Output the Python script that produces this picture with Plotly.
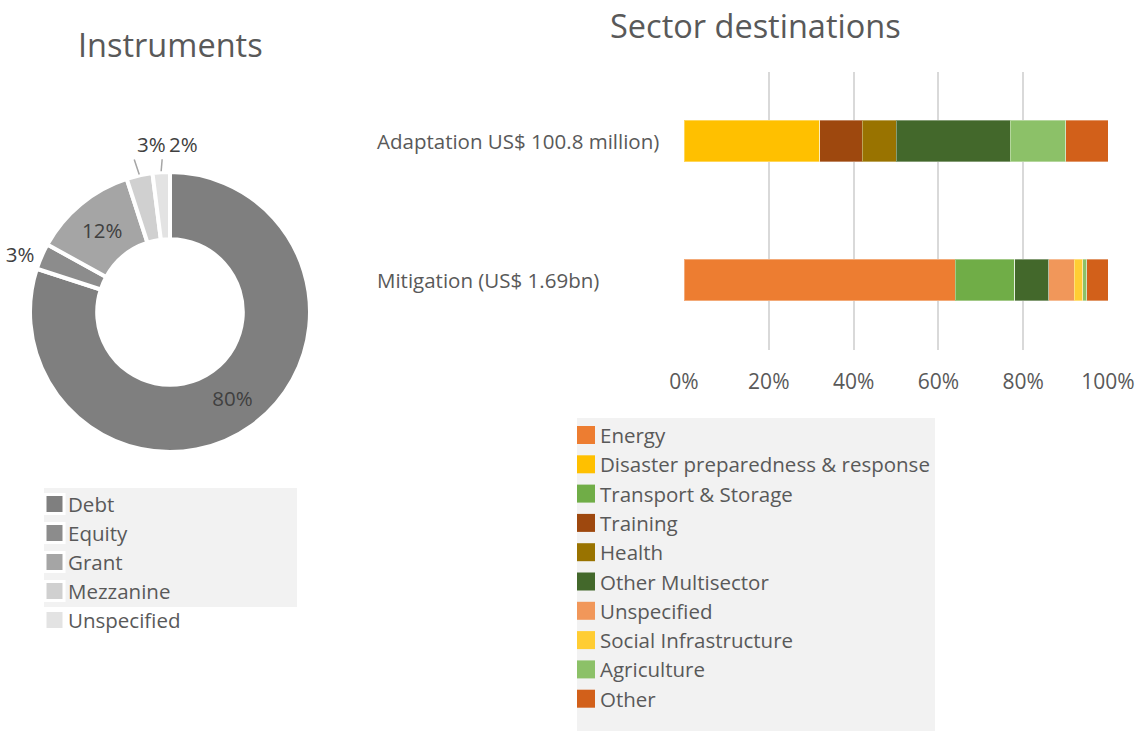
import math
import plotly.graph_objects as go

W, H = 1137, 731
FONT = "Open Sans"
TEXT = "#595959"
LABEL = "#404040"

# Instruments (donut)
instruments = ["Debt", "Equity", "Grant", "Mezzanine", "Unspecified"]
instrument_share = [80, 3, 12, 3, 2]
instrument_colors = ["#7f7f7f", "#8c8c8c", "#a5a5a5", "#d0d0d0", "#e3e3e3"]
instrument_textpos = ["inside", "outside", "inside", "none", "none"]

# Sector destinations (100% stacked bars)
categories = ["Mitigation (US$ 1.69bn)", "Adaptation US$ 100.8 million)"]
sectors = ["Energy", "Disaster preparedness & response", "Transport & Storage",
           "Training", "Health", "Other Multisector", "Unspecified",
           "Social Infrastructure", "Agriculture", "Other"]
sector_colors = ["#ED7D31", "#FFC000", "#70AD47", "#9E480E", "#997300",
                 "#43682B", "#F1975A", "#FFCD33", "#8CC168", "#D2601A"]
mitigation = [64, 0, 14, 0, 0, 8, 6, 2, 1, 5]
adaptation = [0, 32, 0, 10, 8, 27, 0, 0, 13, 10]
pct_ticks = [0, 20, 40, 60, 80, 100]


def px_x(v):
    return v / W


def px_y(v):
    return 1 - v / H


# donut geometry in pixels
PIE_CX, PIE_CY, PIE_R = 170, 312, 140

fig = go.Figure()

fig.add_trace(go.Pie(
    labels=instruments, values=instrument_share, sort=False,
    direction="clockwise", rotation=0, hole=0.52,
    marker=dict(colors=instrument_colors, line=dict(color="white", width=4)),
    texttemplate="%{value}%", textposition=instrument_textpos,
    insidetextorientation="horizontal",
    textfont=dict(family=FONT, size=20.5, color=LABEL),
    domain=dict(x=[px_x(PIE_CX - PIE_R), px_x(PIE_CX + PIE_R)],
                y=[px_y(PIE_CY + PIE_R), px_y(PIE_CY - PIE_R)]),
    showlegend=False, hoverinfo="label+percent",
))

for name, color, m, a in zip(sectors, sector_colors, mitigation, adaptation):
    fig.add_trace(go.Bar(
        y=categories, x=[m, a], name=name, orientation="h",
        marker=dict(color=color, line=dict(color="rgba(255,255,255,0.35)", width=1)),
        showlegend=False,
    ))

fig.update_layout(
    width=W, height=H, margin=dict(l=0, r=0, t=0, b=0, autoexpand=False),
    autosize=False,
    paper_bgcolor="white", plot_bgcolor="white",
    barmode="stack", bargap=0.7,
    font=dict(family=FONT, color=TEXT, size=20),
    xaxis=dict(domain=[px_x(684), px_x(1108)], range=[0, 100],
               tickmode="array", tickvals=pct_ticks,
               ticktext=[f"{v}%" for v in pct_ticks], showgrid=True,
               gridcolor="#d9d9d9", gridwidth=2, zeroline=False,
               showline=False, ticks="outside", ticklen=13, tickcolor="rgba(0,0,0,0)",
               tickfont=dict(family=FONT, size=21, color=TEXT)),
    yaxis=dict(domain=[px_y(349.5), px_y(71.5)], showticklabels=False,
               showgrid=False, zeroline=False, showline=False),
)

shapes = []
annotations = []


def note(text, x, y, size=20.5, xanchor="left", yref="paper", color=TEXT):
    annotations.append(dict(text=text, x=x, y=y, xref="paper", yref=yref,
                            xanchor=xanchor, yanchor="middle", showarrow=False,
                            font=dict(family=FONT, size=size, color=color)))


# titles
note("Instruments", px_x(170), px_y(45), size=32.5, xanchor="center")
note("Sector destinations", px_x(755), px_y(25), size=32.5, xanchor="center")

# left-aligned category labels
for cat in categories:
    note(cat, px_x(375), cat, size=20.5, yref="y")

# outside labels with short leader lines for the two thin top slices
# (slice index: (line end offset, text centre offset), offsets in pixels from the slice tip)
label_offsets = {3: ((-5, -15), (12, -30)), 4: ((1, -12), (22, -27))}
total = sum(instrument_share)
cum = 0
for i, v in enumerate(instrument_share):
    mid = (cum + v / 2) / total * 2 * math.pi
    cum += v
    if i in label_offsets:
        tx = PIE_CX + (PIE_R + 1) * math.sin(mid)
        ty = PIE_CY - (PIE_R + 1) * math.cos(mid)
        (lx, ly), (ox, oy) = label_offsets[i]
        shapes.append(dict(type="line", xref="paper", yref="paper",
                           x0=px_x(tx), y0=px_y(ty), x1=px_x(tx + lx), y1=px_y(ty + ly),
                           line=dict(color="#a6a6a6", width=1.5)))
        note(f"{v}%", px_x(tx + ox), px_y(ty + oy), size=20.5, xanchor="center", color=LABEL)

# instruments legend
shapes.append(dict(type="rect", xref="paper", yref="paper", x0=px_x(44), x1=px_x(297),
                   y0=px_y(607), y1=px_y(488), fillcolor="#f2f2f2", line=dict(width=0), layer="below"))
for i, (name, color) in enumerate(zip(instruments, instrument_colors)):
    yc = 504 + 29 * i
    shapes.append(dict(type="rect", xref="paper", yref="paper", x0=px_x(45), x1=px_x(64),
                       y0=px_y(yc + 9.5), y1=px_y(yc - 9.5), fillcolor=color,
                       line=dict(color="white", width=3)))
    note(name, px_x(66), px_y(yc))

# sectors legend
shapes.append(dict(type="rect", xref="paper", yref="paper", x0=px_x(577), x1=px_x(935),
                   y0=0, y1=px_y(418), fillcolor="#f2f2f2", line=dict(width=0), layer="below"))
for i, (name, color) in enumerate(zip(sectors, sector_colors)):
    yc = 435 + 29.3 * i
    shapes.append(dict(type="rect", xref="paper", yref="paper", x0=px_x(577), x1=px_x(595),
                       y0=px_y(yc + 9), y1=px_y(yc - 9), fillcolor=color, line=dict(width=0)))
    note(name, px_x(598), px_y(yc))

fig.update_layout(shapes=shapes, annotations=annotations)
fig.write_html("out.html")
